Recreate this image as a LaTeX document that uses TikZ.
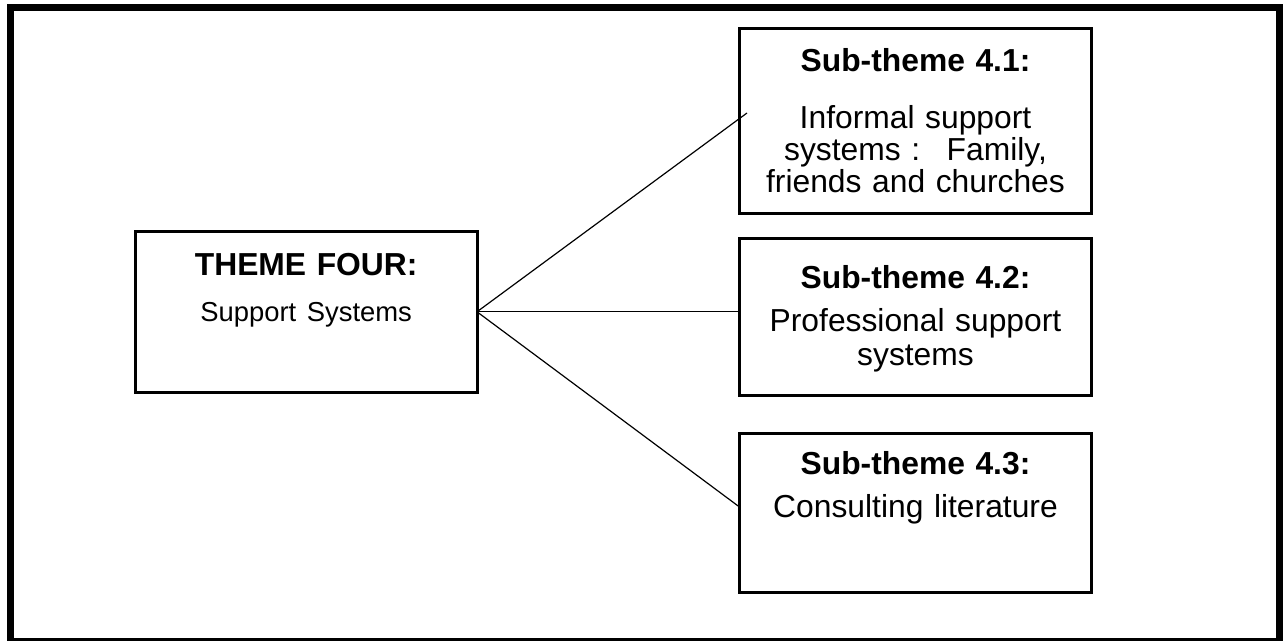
\documentclass[tikz,border=0pt]{standalone}
\usepackage{fontspec}
\setmainfont{Liberation Sans}
\usepackage{tikz}
\usetikzlibrary{positioning}
\newcommand{\boxfont}{\fontsize{15.9}{16}\selectfont}
\newcommand{\smallboxfont}{\fontsize{13.7}{16}\selectfont}
\tikzstyle{box1} = [rectangle, draw, line width=1.5pt, inner sep=0pt, outer sep=0pt, %
   text width=170.85pt, align=center, font=\boxfont]
\tikzstyle{box2} = [rectangle, draw, line width=1.5pt, inner sep=0pt, outer sep=0pt, %
   text width=176pt, align=center, font=\boxfont]
\tikzstyle{outerframe} = [draw, line width=3.5pt]
\tikzstyle{line} = [draw, line width=0.6pt]

\begin{document}
\begin{tikzpicture}[x=0.5pt, y=0.5pt]
   \useasboundingbox (0,0) rectangle (1283,641);
   % Outer frame
   \path [outerframe] (10.5,-0.5) rectangle (1279.5,633.5);

   % Place nodes
   \node[box1, anchor=north west, text height=22.35pt, text depth=58.15pt] (theme) at (135.3,409.7) {%
      \textbf{THEME FOUR:}\\[6.85pt]{\smallboxfont Support Systems}};

   \node[box2, anchor=north west, text height=21.6pt, text depth=70.9pt] (sub1) at (739.5,612.5) {%
      \textbf{Sub-theme 4.1:}\\[12.3pt]Informal support\\systems :~ Family,\\friends and churches};
   \node[box2, below=12.5pt of sub1, text height=24.9pt, text depth=53.85pt] (sub2) {%
      \textbf{Sub-theme 4.2:}\\[5.5pt]Professional support\\[1pt]systems};
   \node[box2, below=18.75pt of sub2, text height=20.75pt, text depth=58.75pt] (sub3) {%
      \textbf{Sub-theme 4.3:}\\[5.5pt]Consulting literature};

   % Draw edges
   \path [line] (theme.east) -- ([shift={(7.5,8)}]sub1.west);
   \path [line] (theme.east) -- (theme.east -| sub2.west);
   \path [line] (theme.east) -- ([shift={(0,6)}]sub3.west);
\end{tikzpicture}
\end{document}
